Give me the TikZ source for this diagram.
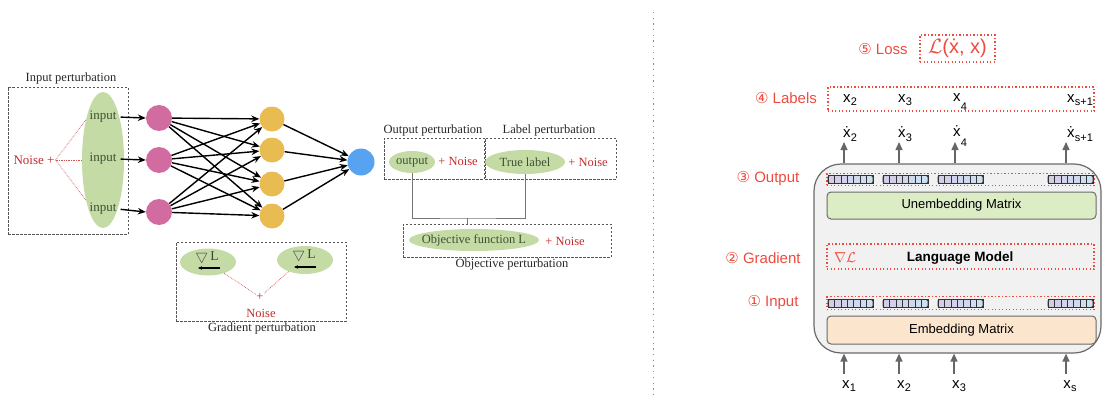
\documentclass[tikz,border=0pt]{standalone}
\usepackage{fontspec}
\setmainfont{Liberation Serif}
\setsansfont{Liberation Sans}
\newfontfamily\symfont{DejaVu Sans}
\usetikzlibrary{arrows.meta,shapes.geometric,calc}
\definecolor{gfill}{HTML}{C4DBA6}
\definecolor{gtext}{HTML}{3E4F30}
\definecolor{pinkc}{HTML}{D26CA0}
\definecolor{yelc}{HTML}{E9BC52}
\definecolor{bluec}{HTML}{58A2F2}
\definecolor{dred}{HTML}{C42A2A}
\definecolor{lred}{HTML}{EE4B3E}
\definecolor{boxg}{HTML}{555555}
\definecolor{lmfill}{HTML}{F1F1F1}
\definecolor{lmdraw}{HTML}{6A6A6A}
\definecolor{unemb}{HTML}{DCEDC6}
\definecolor{emb}{HTML}{FCE5CD}
\definecolor{vlav}{HTML}{D5CCE8}
\definecolor{vblue}{HTML}{CCE0F0}
\definecolor{vdark}{HTML}{333333}
\definecolor{arrg}{HTML}{666666}
\newcommand\embvec[2]{%
  \foreach \k in {0,...,6}{%
    \pgfmathtruncatemacro\pc{\k*100/6}%
    \filldraw[fill=vblue!\pc!vlav, draw=vdark, line width=0.6pt] ({#1+\k*6.43},{#2-4}) rectangle ++(6.43,8);
  }%
  \draw[vdark, line width=0.9pt, rounded corners=1.5pt] (#1,{#2-4}) rectangle ++(45,8);%
}
\newcommand\xsub[2]{x\kern0.3pt\raisebox{#2}{\fontsize{11}{12}\selectfont #1}}
\newcommand\xdsub[2]{\.{x}\kern0.3pt\raisebox{#2}{\fontsize{11}{12}\selectfont #1}}
\begin{document}
\begin{tikzpicture}[x=1pt,y=-1pt,
  serif/.style={font=\fontsize{12.5}{14}\selectfont, inner sep=1pt},
  ttl/.style={serif, text=black!85},
  pbox/.style={draw=boxg, dash pattern=on 2.5pt off 1.5pt, line width=0.7pt, inner sep=0pt},
  gell/.style={ellipse, fill=gfill, inner sep=0pt},
  gtxt/.style={serif, text=gtext},
  rnoise/.style={serif, text=dred},
  neuron/.style={circle, inner sep=0pt, minimum size=26pt},
  nn/.style={-{Stealth[length=8pt,width=6.5pt]}, line width=1.4pt, black},
  rdot/.style={dred!80, densely dotted, line width=0.7pt},
  conn/.style={draw=arrg!90, line width=0.9pt},
  sans/.style={font=\sffamily\fontsize{15}{17}\selectfont, inner sep=1pt},
  rlab/.style={sans, text=lred},
  rbox/.style={draw=lred, line width=1.3pt, dash pattern=on 1.3pt off 2.2pt, inner sep=0pt},
  mat/.style={draw=lmdraw, line width=1pt, rounded corners=4pt, font=\sffamily\fontsize{13}{15}\selectfont, inner sep=0pt},
  uparr/.style={arrg, line width=1.3pt, -{Triangle[length=8pt,width=7pt]}},
  xl/.style={sans, text=black}
]
\useasboundingbox (0,0) rectangle (1102,396);

% ---------- Input perturbation ----------
\node[pbox, minimum width=120pt, minimum height=147pt] (ipbox) at (68,160.5) {};
\node[ttl] (ipt) at (71,78) {Input perturbation};
\node[gell, minimum width=42pt, minimum height=136pt] (iell) at (103,160) {};
\node[gtxt, font=\fontsize{13}{15}\selectfont] (in1) at (103,117) {input};
\node[gtxt, font=\fontsize{13}{15}\selectfont] (in2) at (103,159) {input};
\node[gtxt, font=\fontsize{13}{15}\selectfont] (in3) at (103,209) {input};
\node[rnoise, font=\fontsize{13}{15}\selectfont] (inoise) at (34,160) {Noise +};
\draw[rdot] (inoise.east) -- (iell.113);
\draw[rdot] (inoise.east) -- (iell.west);
\draw[rdot] (inoise.east) -- (iell.247);

% ---------- network ----------
\node[neuron, fill=pinkc] (p1) at (159,118) {};
\node[neuron, fill=pinkc] (p2) at (159,160) {};
\node[neuron, fill=pinkc] (p3) at (159,212) {};
\node[neuron, fill=yelc, minimum size=25pt] (y1) at (272,119) {};
\node[neuron, fill=yelc, minimum size=25pt] (y2) at (272,150) {};
\node[neuron, fill=yelc, minimum size=25pt] (y3) at (272,184) {};
\node[neuron, fill=yelc, minimum size=25pt] (y4) at (272,216) {};
\node[neuron, fill=bluec, minimum size=27pt] (bo) at (361,162) {};
\draw[nn, shorten <=3pt] (in1.east) -- (p1.west);
\draw[nn, shorten <=3pt] (in2.east) -- (p2.west);
\draw[nn, shorten <=3pt] (in3.east) -- (p3.west);
\foreach \a in {p1,p2,p3}{\foreach \b in {y1,y2,y3,y4}{\draw[nn] (\a) -- (\b);}}
\foreach \b in {y1,y2,y3,y4}{\draw[nn] (\b) -- (bo);}

% ---------- Gradient perturbation ----------
\node[pbox, minimum width=170pt, minimum height=79pt] (gpbox) at (261,281.5) {};
\node[ttl] (gpt) at (262,328) {Gradient perturbation};
\node[gell, minimum width=56pt, minimum height=27pt] (g1) at (208,262) {};
\node[gell, minimum width=56pt, minimum height=28pt] (g2) at (305,260) {};
\node[gtxt, text=black!75, font=\fontsize{13.5}{15}\selectfont] (g1t) at (207,257) {$\bigtriangledown$\,L};
\node[gtxt, text=black!75, font=\fontsize{13.5}{15}\selectfont] (g2t) at (304,255) {$\bigtriangledown$\,L};
\coordinate (g1a) at (220,268); \coordinate (g1b) at (198,268);
\coordinate (g2a) at (316,267); \coordinate (g2b) at (294,267);
\draw[line width=1.2pt, -{Stealth[length=4pt,width=3.5pt]}] (g1a) -- (g1b);
\draw[line width=1.2pt, -{Stealth[length=4pt,width=3.5pt]}] (g2a) -- (g2b);
\node[rnoise, inner sep=0.5pt] (gplus) at (260,297) {+};
\node[rnoise] (gnoise) at (261,313) {Noise};
\draw[rdot] (g1.-35) -- (gplus);
\draw[rdot] (g2.-145) -- (gplus);

% ---------- Output / Label / Objective ----------
\node[pbox, minimum width=100pt, minimum height=41pt] (opbox) at (434,158.5) {};
\node[pbox, minimum width=131pt, minimum height=41pt] (lpbox) at (550.5,158.5) {};
\node[ttl] (opt) at (433,130) {Output perturbation};
\node[ttl] (lpt) at (549,130) {Label perturbation};
\node[gell, minimum width=46pt, minimum height=22pt] (oe) at (412,162) {};
\node[gtxt] (oet) at (412,162) {output};
\node[rnoise] (on) at (458,161) {+ Noise};
\node[gell, minimum width=80pt, minimum height=24pt] (tl) at (525,162) {};
\node[gtxt] (tlt) at (525,162) {True label};
\node[rnoise] (tn) at (588,162) {+ Noise};
\node[pbox, minimum width=208pt, minimum height=33pt] (objbox) at (507,240.5) {};
\node[ttl] (objt) at (512,264) {Objective perturbation};
\node[gell, minimum width=130pt, minimum height=22pt] (oje) at (474,240) {};
\node[gtxt] (ojt) at (474,240) {Objective function L};
\node[rnoise] (ojn) at (565,241) {+ Noise};
\coordinate (jn) at (467,218);
\draw[conn] (oe.south) |- (jn) -| (tl.south);
\draw[conn] (jn) -- (objbox.north -| jn);

% ---------- separator ----------
\coordinate (sepT) at (653,12);
\coordinate (sepB) at (653,396);
\draw[black!45, line width=1pt, dash pattern=on 1.3pt off 4.4pt] (sepT) -- (sepB);

% ---------- right: language model ----------
\node[draw=lmdraw, fill=lmfill, line width=1.2pt, rounded corners=27pt, minimum width=287pt, minimum height=189pt, inner sep=0pt] (lm) at (957.5,258.5) {};

\node[rlab] (l5) at (883,49) {{\symfont ⑤} Loss};
\node[rbox, minimum width=75pt, minimum height=27pt] (lossbox) at (957.5,48.5) {};
\node[sans, text=lred, font=\sffamily\fontsize{20}{22}\selectfont] (losst) at (957.5,48.5) {$\mathcal{L}$(\.{x}, x)};

\node[rlab] (l4) at (786,98) {{\symfont ④} Labels};
\node[rbox, minimum width=266pt, minimum height=24pt] (labbox) at (961,99) {};
\node[xl] (t2) at (850,100) {\xsub{2}{-0.45ex}};
\node[xl] (t3) at (905,100) {\xsub{3}{-0.45ex}};
\node[xl] (t4) at (960,102) {\xsub{4}{-1.2ex}};
\node[xl] (t5) at (1080,100) {\xsub{s+1}{-0.45ex}};

\node[xl] (o2) at (850,134) {\xdsub{2}{-0.45ex}};
\node[xl] (o3) at (905,134) {\xdsub{3}{-0.45ex}};
\node[xl] (o4) at (960,136) {\xdsub{4}{-1.2ex}};
\node[xl] (o5) at (1080,134) {\xdsub{s+1}{-0.45ex}};

\coordinate (a2) at (844,142); \coordinate (a3) at (899,142);
\coordinate (a4) at (955,142); \coordinate (a5) at (1066,142);
\draw[uparr] (a2 |- lm.north) -- (a2);
\draw[uparr] (a3 |- lm.north) -- (a3);
\draw[uparr] (a4 |- lm.north) -- (a4);
\draw[uparr] (a5 |- lm.north) -- (a5);

\node[rlab] (l3) at (768,179) {{\symfont ③} Output};
\node[rbox, line width=1.1pt, minimum width=267pt, minimum height=12pt] (outbox) at (960.5,179.5) {};
\embvec{828}{179.5}
\embvec{883}{179.5}
\embvec{938}{179.5}
\embvec{1048}{179.5}
\node[mat, fill=unemb, minimum width=269pt, minimum height=27pt] (unm) at (961.5,205.5) {Unembedding Matrix};

\node[rlab] (l2) at (763,258) {{\symfont ②} Gradient};
\node[rbox, line width=1.1pt, minimum width=267pt, minimum height=25pt] (gradbox) at (960.5,256.5) {};
\node[sans, text=lred] (nab) at (845,258) {$\nabla\mathcal{L}$};
\node[sans, font=\sffamily\bfseries\fontsize{13.5}{15}\selectfont] (lmt) at (960,258) {Language Model};

\node[rlab] (l1) at (773,303) {{\symfont ①} Input};
\node[rbox, line width=1.1pt, minimum width=267pt, minimum height=13pt] (inbox) at (960.5,303) {};
\embvec{828}{303.5}
\embvec{883}{303.5}
\embvec{938}{303.5}
\embvec{1048}{303.5}
\node[mat, fill=emb, minimum width=269pt, minimum height=28pt] (em) at (961.5,330) {Embedding Matrix};

\node[xl] (x1) at (849,386) {\xsub{1}{-0.45ex}};
\node[xl] (x2) at (904,386) {\xsub{2}{-0.45ex}};
\node[xl] (x3) at (959,386) {\xsub{3}{-0.45ex}};
\node[xl] (xs) at (1070,386) {\xsub{s}{-0.45ex}};
\coordinate (b1) at (844,374); \coordinate (b2) at (899,374);
\coordinate (b3) at (954,374); \coordinate (b4) at (1066,374);
\draw[uparr] (b1) -- (b1 |- lm.south);
\draw[uparr] (b2) -- (b2 |- lm.south);
\draw[uparr] (b3) -- (b3 |- lm.south);
\draw[uparr] (b4) -- (b4 |- lm.south);
\end{tikzpicture}
\end{document}
